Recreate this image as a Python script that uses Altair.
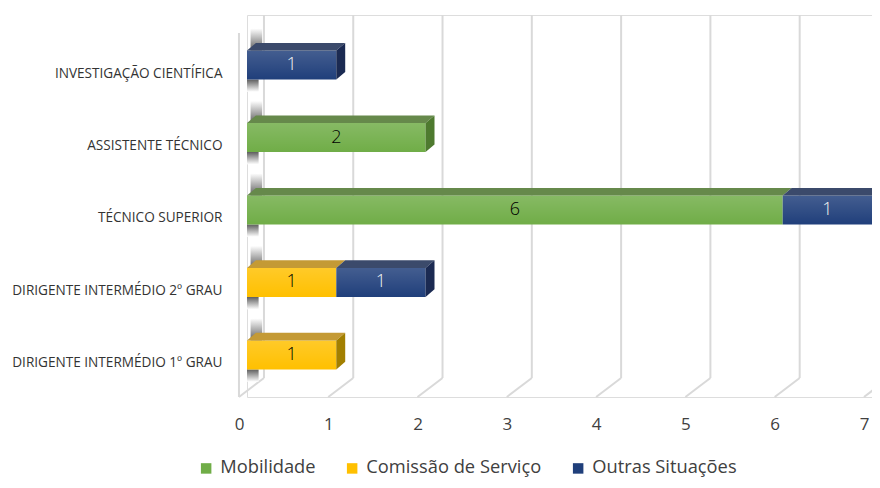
import json
import altair as alt
import pandas as pd

# ---- data ----
categories = [
    "Investigação Científica",
    "Assistente Técnico",
    "Técnico Superior",
    "Dirigente Intermédio 2º Grau",
    "Dirigente Intermédio 1º Grau",
]
series = ["Mobilidade", "Comissão de Serviço", "Outras Situações"]
mobilidade = [0, 2, 6, 0, 0]
comissao = [0, 0, 0, 1, 1]
outras = [1, 0, 1, 1, 0]
x_ticks = [0, 1, 2, 3, 4, 5, 6, 7]

# ---- styles ----
front_colors = ["#70AD47", "#FFC000", "#203F7B"]
top_colors = ["#66894B", "#C49A35", "#3B4A6B"]
side_colors = ["#4E7A2F", "#A27F00", "#1B2A52"]
text_colors = ["#000000", "#000000", "#F2F2F2"]
FONT = "Open Sans"

HALF = 0.2      # half bar height (category units)
DX = 0.10       # depth, value units
DY = 0.105      # depth, category units
WALL = 0.19     # back-plane offset for gridlines
GDX = 0.28      # floor diagonal length (value units)
Y_TOP, Y_BACK, Y_BOT = -0.69, 4.317, 4.58

vals_by_series = [mobilidade, comissao, outras]

front_rows, top_rows, side_rows, shadow_up, shadow_dn = [], [], [], [], []
for i, cat in enumerate(categories):
    segs = [(s, vals_by_series[s][i]) for s in range(3) if vals_by_series[s][i] > 0]
    start = 0
    for j, (s, v) in enumerate(segs):
        x0, x1 = start, start + v
        fid = f"{i}-{s}"
        front_rows.append(dict(cat=cat, idx=i, series=series[s], x0=x0, x1=x1,
                               xm=(x0 + x1) / 2, yt=i - HALF, yb=i + HALF,
                               value=v, tcol=text_colors[s]))
        top_rows.append(dict(fid=fid, yy=i - HALF, xa=x0, xb=x1, col=top_colors[s]))
        top_rows.append(dict(fid=fid, yy=i - HALF - DY, xa=x0 + DX, xb=x1 + DX, col=top_colors[s]))
        if j == len(segs) - 1:
            side_rows.append(dict(fid=fid, xx=x1, ya=i - HALF, yb=i + HALF, col=side_colors[s]))
            side_rows.append(dict(fid=fid, xx=x1 + DX, ya=i - HALF - DY, yb=i + HALF - DY, col=side_colors[s]))
        start = x1
    shadow_up.append(dict(sx0=0.04, sx1=0.17, sy0=i - HALF - DY - 0.2, sy1=i - HALF))
    shadow_dn.append(dict(sx0=0.0, sx1=0.13, sy0=i + HALF, sy1=i + HALF + 0.17))

front = pd.DataFrame(front_rows)
tops = pd.DataFrame(top_rows)
sides = pd.DataFrame(side_rows)

grid_rows = []
for k in x_ticks:
    grid_rows.append(dict(gx=k + WALL, gy=Y_TOP, gx2=k + WALL, gy2=Y_BACK))
    grid_rows.append(dict(gx=k + WALL, gy=Y_BACK, gx2=k + WALL - GDX, gy2=Y_BOT))
grid_rows.append(dict(gx=WALL - GDX, gy=-0.44, gx2=WALL - GDX, gy2=Y_BOT))
grid = pd.DataFrame(grid_rows)

xscale = alt.Scale(domain=[0, 7], nice=False, zero=False)
yscale = alt.Scale(domain=[Y_TOP, Y_BOT], reverse=True, nice=False, zero=False)

label_expr = "upper(" + json.dumps(categories) + "[datum.value])"

x_axis = alt.Axis(values=x_ticks, format="d", grid=False, domain=False, ticks=False,
                  title=None, labelFont=FONT, labelFontSize=17, labelColor="#404040",
                  labelOffset=-8, labelPadding=27, labelBaseline="middle", labelFlush=False)
y_axis = alt.Axis(values=list(range(len(categories))), labelExpr=label_expr, grid=False,
                  domain=False, ticks=False, title=None, labelFont=FONT, labelFontSize=13.6,
                  labelColor="#333333", labelPadding=25, labelOffset=8, labelBaseline="middle",
                  labelLimit=400)

gridlines = alt.Chart(grid).mark_rule(color="#D9D9D9", strokeWidth=2).encode(
    x=alt.X("gx:Q", scale=xscale, axis=x_axis),
    y=alt.Y("gy:Q", scale=yscale, axis=y_axis),
    x2="gx2:Q",
    y2="gy2:Q",
)

shadow_a = alt.Chart(pd.DataFrame(shadow_up)).mark_rect(
    fill={"gradient": "linear", "x1": 0, "y1": 0, "x2": 0, "y2": 1,
          "stops": [{"offset": 0, "color": "#ffffff"},
                    {"offset": 1, "color": "#5e5e5e"}]}
).encode(x="sx0:Q", x2="sx1:Q", y="sy0:Q", y2="sy1:Q")

shadow_b = alt.Chart(pd.DataFrame(shadow_dn)).mark_rect(
    fill={"gradient": "linear", "x1": 0, "y1": 0, "x2": 0, "y2": 1,
          "stops": [{"offset": 0, "color": "#5e5e5e"},
                    {"offset": 1, "color": "#ffffff"}]}
).encode(x="sx0:Q", x2="sx1:Q", y="sy0:Q", y2="sy1:Q")

front_faces = alt.Chart(front).mark_rect().encode(
    x="x0:Q", x2="x1:Q", y="yt:Q", y2="yb:Q",
    color=alt.Color("series:N", scale=alt.Scale(domain=series, range=front_colors),
                    sort=series,
                    legend=alt.Legend(title=None, orient="none", legendX=-50, legendY=444,
                                      direction="horizontal", symbolType="square",
                                      symbolSize=110, symbolStrokeWidth=0, labelFont=FONT,
                                      labelFontSize=18.3, labelColor="#404040",
                                      columnPadding=27, labelOffset=5, labelLimit=400)),
)

shine = alt.Chart(front).mark_rect(
    fill={"gradient": "linear", "x1": 0, "y1": 0, "x2": 0, "y2": 1,
          "stops": [{"offset": 0, "color": "rgba(255,255,255,0.16)"},
                    {"offset": 1, "color": "rgba(255,255,255,0)"}]}
).encode(x="x0:Q", x2="x1:Q", y="yt:Q", y2="yb:Q")

top_faces = alt.Chart(tops).mark_area(orient="horizontal").encode(
    y="yy:Q", x="xa:Q", x2="xb:Q", detail="fid:N",
    color=alt.Color("col:N", scale=None),
)

side_faces = alt.Chart(sides).mark_area(orient="vertical").encode(
    x="xx:Q", y="ya:Q", y2="yb:Q", detail="fid:N",
    color=alt.Color("col:N", scale=None),
)

labels = alt.Chart(front).mark_text(font=FONT, fontSize=18, fontWeight=300,
                                    baseline="middle", align="center").encode(
    x="xm:Q", y="idx:Q", text="value:Q",
    color=alt.Color("tcol:N", scale=None),
)

chart = alt.layer(gridlines, shadow_a, shadow_b, front_faces, shine, top_faces, side_faces,
                  labels).resolve_scale(
    color="independent"
).properties(
    width=625, height=382,
    autosize=alt.AutoSizeParams(type="none"),
    padding={"left": 239, "top": 7, "right": 0, "bottom": 83},
).configure_view(stroke=None).configure(background="white")

chart.save("out.html", embed_options={"renderer": "svg", "actions": False})
